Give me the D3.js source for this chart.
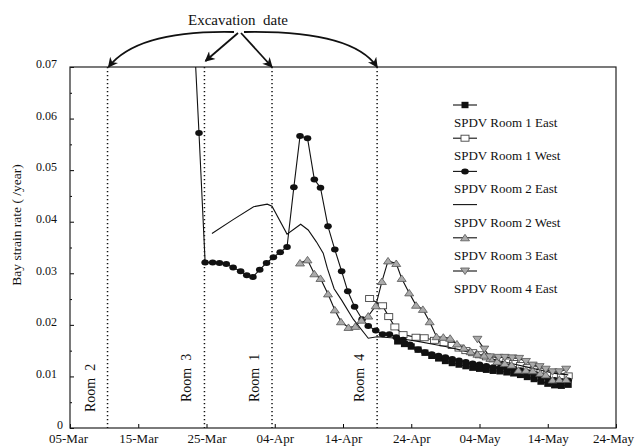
<!DOCTYPE html>
<html>
<head>
<meta charset="utf-8">
<script src="https://cdn.jsdelivr.net/npm/d3@7"></script>
<style>
  body { margin: 0; background: #fff; }
  svg text { font-family: "Liberation Serif", "Times New Roman", serif; fill: #111; }
</style>
</head>
<body>
<svg id="chart" width="635" height="448"></svg>
<script>
// days counted from 05-Mar
const startDate = new Date(2001, 2, 5);
const dayTicks = [0, 10, 20, 30, 40, 50, 60, 70, 80];
const yTicks = [0, 0.01, 0.02, 0.03, 0.04, 0.05, 0.06, 0.07];
const yMinorTicks = [0.005, 0.015, 0.025, 0.035, 0.045, 0.055, 0.065];

// excavation dates (day offsets) and their labels
const excavDays = [5.5, 19.7, 29.6, 45.0];
const excavLabels = ["Room  2", "Room  3", "Room  1", "Room  4"];

const room1East = [[48,0.0168],[49,0.0163],[50,0.0158],[51,0.0152],[52,0.0146],[53,0.0140],[54,0.0135],
  [55,0.0130],[56,0.0126],[57,0.0123],[58,0.0120],[59,0.0117],[60,0.0115],[61,0.0113],[62,0.0111],
  [63,0.0110],[64,0.0108],[65,0.0106],[66,0.0103],[67,0.0099],[68,0.0095],[69,0.0090],[70,0.0086],
  [71,0.0083],[72,0.0082],[73,0.0084]];

const room1West = [[43.9,0.0251],[45.8,0.0237],[46.7,0.0216],[47.6,0.0196],[48.8,0.0181],[50.7,0.0176],
  [51.9,0.0175],[53.4,0.0170],[54.8,0.0165],[56,0.0160],[57,0.0155],[58,0.0150],[59,0.0146],[60,0.0142],
  [61,0.0138],[62,0.0134],[63,0.0131],[64,0.0128],[65,0.0125],[66,0.0121],[67,0.0117],[68,0.0113],
  [69,0.0109],[70,0.0105],[71,0.0102],[72,0.0100],[73,0.0101]];

const room2East = [[18.0,0.081],[18.9,0.0572],[19.8,0.0321],[20.9,0.0321],[21.9,0.0320],[22.9,0.0318],
  [23.9,0.0311],[25.0,0.0304],[25.9,0.0296],[26.8,0.0293],[27.8,0.0307],[28.8,0.0320],[29.8,0.0331],
  [30.8,0.0341],[31.8,0.0351],[32.8,0.0467],[33.7,0.0566],[34.8,0.0562],[35.8,0.0482],[36.7,0.0466],
  [37.8,0.0391],[38.8,0.0346],[39.8,0.0304],[40.7,0.0265],[41.7,0.0235],[42.8,0.0211],[43.7,0.0198],
  [44.8,0.0189],[45.8,0.0182],[46.8,0.0182],[47.8,0.0176],[48.8,0.0171],[49.8,0.0162],[51,0.0152],
  [52,0.0147],[53,0.0143],[54,0.0140],[55,0.0137],[56,0.0134],[57,0.0131],[58,0.0128],[59,0.0125],
  [60,0.0123],[61,0.0120],[62,0.0118],[63,0.0117],[64,0.0116],[65,0.0114],[66,0.0112],[67,0.0108],
  [68,0.0104],[69,0.0100],[70,0.0096],[71,0.0093],[72,0.0091],[73,0.0092]];

const room2West = [[20.8,0.0377],[23.9,0.0404],[26.9,0.0429],[28.9,0.0434],[29.6,0.0430],[31.8,0.0376],
  [33.8,0.0395],[34.9,0.0384],[36.1,0.0361],[37.1,0.0339],[37.7,0.0310],[38.7,0.0270],[39.8,0.0248],
  [41.5,0.0211],[43.7,0.0174],[45,0.0177],[47,0.0175],[49,0.0172],[51,0.0168],[53,0.0163],[55,0.0158],
  [57,0.0152],[59,0.0145],[61,0.0137],[63,0.0130],[65,0.0124],[67,0.0118],[69,0.0112],[71,0.0106],
  [73,0.0103]];

const room3East = [[33.7,0.0320],[34.8,0.0326],[35.8,0.0299],[36.7,0.0290],[37.8,0.0260],[38.8,0.0229],
  [39.7,0.0206],[40.8,0.0195],[41.8,0.0197],[42.7,0.0209],[43.7,0.0217],[44.8,0.0237],[45.7,0.0284],
  [46.6,0.0324],[47.8,0.0319],[48.6,0.0290],[49.7,0.0262],[50.7,0.0238],[51.7,0.0230],[52.7,0.0206],
  [53.7,0.0177],[54.7,0.0176],[55.7,0.0174],[56.7,0.0163],[57.7,0.0155],[58.7,0.0148],[59.7,0.0143],
  [60.7,0.0141],[61.6,0.0135],[62.6,0.0129],[63.7,0.0125],[64.7,0.0122],[65.7,0.0112],[66.8,0.0112],
  [67.8,0.0111],[68.9,0.0106],[69.7,0.0103],[70.7,0.0093],[71.7,0.0094],[72.7,0.0094]];

const room4East = [[59.7,0.0172],[60.7,0.0153],[61.5,0.0138],[62.8,0.0137],[63.7,0.0137],[64.8,0.0136],
  [65.8,0.0135],[66.8,0.0129],[67.8,0.0122],[68.8,0.0119],[69.7,0.0114],[70.7,0.0109],[71.7,0.0109],
  [72.7,0.0114]];

const seriesNames = ["SPDV Room 1 East", "SPDV Room 1 West", "SPDV Room 2 East",
                     "SPDV Room 2 West", "SPDV Room 3 East", "SPDV Room 4 East"];
const seriesData = [room1East, room1West, room2East, room2West, room3East, room4East];
const seriesMarks = ["fsquare", "osquare", "circle", "none", "tri", "itri"];

const svg = d3.select("#chart");
const pLeft = 70, pRight = 616, pTop = 67, pBottom = 428;

const x = d3.scaleLinear().domain([0, 80]).range([pLeft, pRight]);
const y = d3.scaleLinear().domain([0, 0.07]).range([pBottom, pTop]);
const fmt = d3.timeFormat("%d-%b");

// clip so the Room 2 East jump above 0.07 is cut at the frame
const defs = svg.append("defs");
defs.append("clipPath").attr("id", "plotclip")
  .append("rect").attr("x", pLeft).attr("y", pTop).attr("width", pRight - pLeft).attr("height", pBottom - pTop);

// arrowhead
defs.append("marker")
  .attr("id", "arrow").attr("viewBox", "0 0 10 10").attr("refX", 9).attr("refY", 5)
  .attr("markerWidth", 12).attr("markerHeight", 10).attr("markerUnits", "userSpaceOnUse")
  .attr("orient", "auto")
  .append("path").attr("d", "M0,0 L10,5 L0,10 L3,5 Z").attr("fill", "#111");

// axes
const xAxis = d3.axisBottom(x).tickValues(dayTicks).tickSize(-4).tickSizeOuter(0).tickPadding(6)
  .tickFormat(d => fmt(d3.timeDay.offset(startDate, d)));
svg.append("g").attr("transform", `translate(0,${pBottom})`).call(xAxis)
  .call(g => g.select(".domain").remove())
  .call(g => g.selectAll("text").attr("font-size", 13).attr("font-family", "Liberation Serif")
    .attr("dx", d => d === 80 ? -3 : d === 0 ? -2 : 0));

const yAxis = d3.axisLeft(y).tickValues(yTicks).tickSize(-4).tickSizeOuter(0).tickPadding(13)
  .tickFormat(d => d === 0 ? "0" : d3.format(".2f")(d));
svg.append("g").attr("transform", `translate(${pLeft},0)`).call(yAxis)
  .call(g => g.select(".domain").remove())
  .call(g => g.selectAll("text").attr("font-size", 12).attr("font-family", "Liberation Serif")
    .attr("y", -3).attr("dx", d => d === 0 ? 6 : 0));

svg.append("g").attr("transform", `translate(${pLeft},0)`)
  .call(d3.axisLeft(y).tickValues(yMinorTicks).tickSize(-2).tickFormat(""))
  .call(g => g.select(".domain").remove());

// frame
svg.append("rect").attr("x", pLeft).attr("y", pTop).attr("width", pRight - pLeft).attr("height", pBottom - pTop)
  .attr("fill", "none").attr("stroke", "#222").attr("stroke-width", 1.2);

svg.append("text").attr("transform", `translate(21,225) rotate(-90)`)
  .attr("text-anchor", "middle").attr("font-size", 13.5).text("Bay strain rate ( /year)");

// excavation lines and labels
svg.selectAll(".exc").data(excavDays).enter().append("line")
  .attr("x1", d => x(d)).attr("x2", d => x(d)).attr("y1", pTop).attr("y2", pBottom)
  .attr("stroke", "#111").attr("stroke-width", 1.5).attr("stroke-dasharray", "1.3,2.7");

svg.selectAll(".roomlab").data(excavDays).enter().append("text")
  .attr("transform", (d, i) => `translate(${x(d) - 13},${i === 0 ? 412 : 402}) rotate(-90)`)
  .attr("font-size", 14).style("white-space", "pre")
  .text((d, i) => excavLabels[i]);

// "Excavation date" annotation
svg.append("text").attr("x", 238).attr("y", 25).attr("text-anchor", "middle")
  .attr("font-size", 15).style("white-space", "pre").text("Excavation  date");

const ax = 238, ay = 32;
const arrowPaths = [
  `M${ax - 4},${ay} Q${x(excavDays[0]) + 30},${ay - 2} ${x(excavDays[0]) + 1},${pTop}`,
  `M${ax},${ay + 1} L${x(excavDays[1]) + 1},${pTop - 6}`,
  `M${ax + 3},${ay + 1} L${x(excavDays[2])},${pTop}`,
  `M${ax + 6},${ay} Q${x(excavDays[3]) - 25},${ay - 2} ${x(excavDays[3])},${pTop}`
];
svg.selectAll(".arr").data(arrowPaths).enter().append("path")
  .attr("d", d => d).attr("fill", "none").attr("stroke", "#111").attr("stroke-width", 1.8)
  .attr("marker-end", "url(#arrow)");

// series
const line = d3.line().x(d => x(d[0])).y(d => y(d[1]));
const plot = svg.append("g").attr("clip-path", "url(#plotclip)");

function drawMark(g, kind, cx, cy) {
  if (kind === "fsquare") {
    g.append("rect").attr("x", cx - 3.5).attr("y", cy - 3.2).attr("width", 7).attr("height", 6.4).attr("fill", "#111");
  } else if (kind === "osquare") {
    g.append("rect").attr("x", cx - 4).attr("y", cy - 3).attr("width", 8).attr("height", 6)
      .attr("fill", "#fff").attr("stroke", "#444").attr("stroke-width", 0.9);
  } else if (kind === "circle") {
    g.append("ellipse").attr("cx", cx).attr("cy", cy).attr("rx", 3.8).attr("ry", 3).attr("fill", "#111");
  } else if (kind === "tri") {
    g.append("path").attr("d", `M${cx - 4.5},${cy + 3} L${cx + 4.5},${cy + 3} L${cx},${cy - 3.5} Z`)
      .attr("fill", "#aaa").attr("stroke", "#555").attr("stroke-width", 0.8);
  } else if (kind === "itri") {
    g.append("path").attr("d", `M${cx - 4.5},${cy - 3} L${cx + 4.5},${cy - 3} L${cx},${cy + 3.5} Z`)
      .attr("fill", "#aaa").attr("stroke", "#555").attr("stroke-width", 0.8);
  }
}

seriesData.forEach((data, i) => {
  plot.append("path").datum(data).attr("d", line)
    .attr("fill", "none").attr("stroke", "#111").attr("stroke-width", 1.1);
  const g = plot.append("g");
  data.forEach(d => drawMark(g, seriesMarks[i], x(d[0]), y(d[1])));
});

// legend
const leg = svg.append("g");
seriesNames.forEach((name, i) => {
  const ly = 105 + i * 33.2;
  leg.append("line").attr("x1", 453).attr("x2", 477).attr("y1", ly).attr("y2", ly)
    .attr("stroke", "#111").attr("stroke-width", 1.1);
  drawMark(leg, seriesMarks[i], 465, ly);
  leg.append("text").attr("x", 454).attr("y", ly + 22).attr("font-size", 13).text(name);
});
</script>
</body>
</html>
